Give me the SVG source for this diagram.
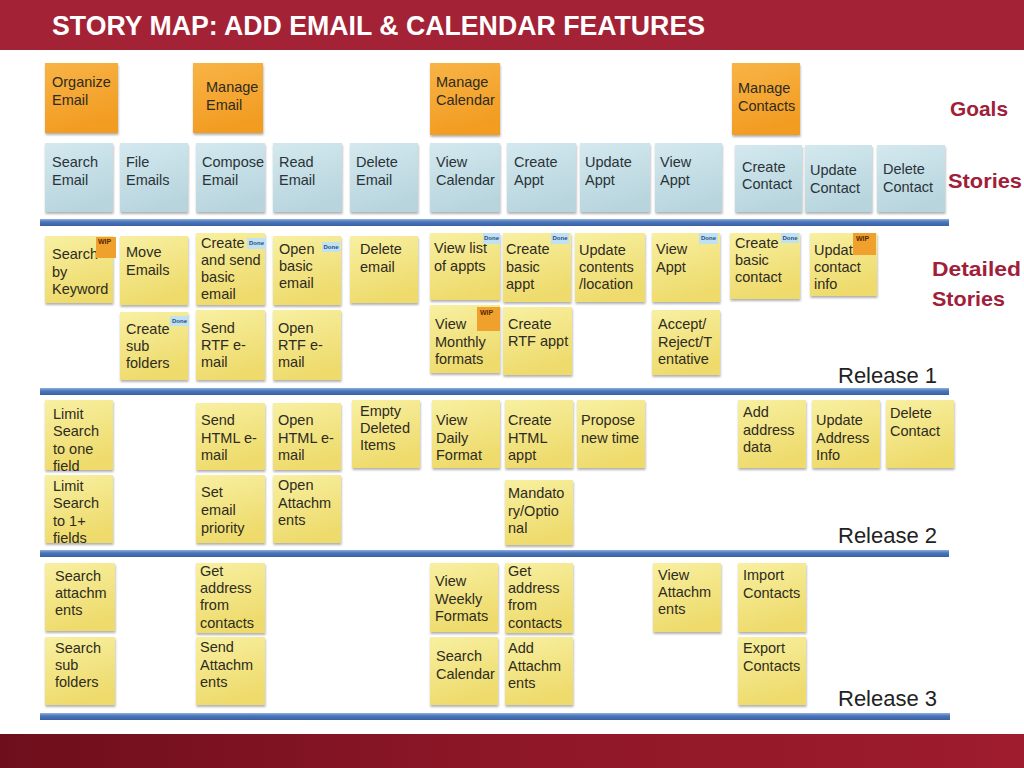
<svg xmlns="http://www.w3.org/2000/svg" width="1024" height="768" viewBox="0 0 1024 768">
<defs>
<linearGradient id="gOrange" x1="0" y1="0" x2="0.3" y2="1"><stop offset="0" stop-color="#F8B446"/><stop offset="1" stop-color="#F29C22"/></linearGradient>
<linearGradient id="gBlue" x1="0" y1="0" x2="0.3" y2="1"><stop offset="0" stop-color="#D4E9EF"/><stop offset="1" stop-color="#B8D5DE"/></linearGradient>
<linearGradient id="gYellow" x1="0" y1="0" x2="0.3" y2="1"><stop offset="0" stop-color="#F8F0A2"/><stop offset="1" stop-color="#EEDB6C"/></linearGradient>
<linearGradient id="gBar" x1="0" y1="0" x2="0" y2="1"><stop offset="0" stop-color="#8EB0DD"/><stop offset="0.4" stop-color="#4C77BC"/><stop offset="1" stop-color="#3A60A2"/></linearGradient>
<linearGradient id="gFoot" x1="0" y1="0" x2="1" y2="0"><stop offset="0" stop-color="#6E0E1C"/><stop offset="0.5" stop-color="#8E1727"/><stop offset="1" stop-color="#9E1C2D"/></linearGradient>
<filter id="sh" x="-10%" y="-10%" width="130%" height="130%"><feDropShadow dx="0.5" dy="2" stdDeviation="1.3" flood-color="#000" flood-opacity="0.3"/></filter>
<style>
.note rect.bg{filter:url(#sh)}
.goal rect.bg{fill:url(#gOrange)}
.story rect.bg{fill:url(#gBlue)}
.detail rect.bg{fill:url(#gYellow)}
.note text{font-family:"Liberation Sans",Arial,sans-serif;font-size:14.5px;fill:#2E2B20}
.story text{fill:#2A3338}
.note .done rect{fill:#BFE1F2}
.note .done text{font-size:6px;fill:#2A4C80;font-weight:bold}
.note .wip rect{fill:#F0A02C}
.note .wip text{font-size:7px;fill:#5A2600;font-weight:bold}
.side{font-family:"Liberation Sans",Arial,sans-serif;font-weight:bold;font-size:21px;fill:#A0203A}
.rel{font-family:"Liberation Sans",Arial,sans-serif;font-size:22px;fill:#222}
</style>
</defs>

<rect x="0" y="0" width="1024" height="768" fill="#FFFFFF"/>
<g id="header">
<rect x="0" y="0" width="1024" height="50" fill="#A32236"/>
<text x="52" y="35" font-family="'Liberation Sans',Arial,sans-serif" font-weight="bold" font-size="27" fill="#FFFFFF" textLength="653" lengthAdjust="spacingAndGlyphs">STORY MAP: ADD EMAIL &amp; CALENDAR FEATURES</text>
</g>
<rect id="footer" x="0" y="734" width="1024" height="34" fill="url(#gFoot)"/>

<g id="labels">
<text class="side" x="950" y="116" textLength="58" lengthAdjust="spacingAndGlyphs">Goals</text>
<text class="side" x="948" y="188" textLength="74" lengthAdjust="spacingAndGlyphs">Stories</text>
<text class="side" x="932" y="276" textLength="89" lengthAdjust="spacingAndGlyphs">Detailed</text>
<text class="side" x="932" y="306" textLength="73" lengthAdjust="spacingAndGlyphs">Stories</text>
<text class="rel" x="838" y="383">Release 1</text>
<text class="rel" x="838" y="543">Release 2</text>
<text class="rel" x="838" y="706">Release 3</text>
</g>

<g id="connectors">
<rect x="40" y="219" width="909" height="7" fill="url(#gBar)"/>
<rect x="40" y="388" width="909" height="7" fill="url(#gBar)"/>
<rect x="40" y="550" width="909" height="7" fill="url(#gBar)"/>
<rect x="40" y="713" width="910" height="7" fill="url(#gBar)"/>
</g>

<!-- Goals -->
<g id="goal-organize-email" class="note goal"><rect class="bg" x="45" y="63" width="73" height="70"/><text x="52" y="87"><tspan>Organize</tspan><tspan x="52" dy="17.5">Email</tspan></text></g>
<g id="goal-manage-email" class="note goal"><rect class="bg" x="193" y="63" width="70" height="70"/><text x="206" y="92"><tspan>Manage</tspan><tspan x="206" dy="17.5">Email</tspan></text></g>
<g id="goal-manage-calendar" class="note goal"><rect class="bg" x="430" y="63" width="70" height="72"/><text x="436" y="87"><tspan>Manage</tspan><tspan x="436" dy="17.5">Calendar</tspan></text></g>
<g id="goal-manage-contacts" class="note goal"><rect class="bg" x="732" y="63" width="68" height="72"/><text x="738" y="93"><tspan>Manage</tspan><tspan x="738" dy="17.5">Contacts</tspan></text></g>

<!-- Stories -->
<g id="story-search-email" class="note story"><rect class="bg" x="45" y="143" width="68" height="69"/><text x="52" y="167"><tspan>Search</tspan><tspan x="52" dy="18">Email</tspan></text></g>
<g id="story-file-emails" class="note story"><rect class="bg" x="120" y="143" width="68" height="69"/><text x="126" y="167"><tspan>File</tspan><tspan x="126" dy="18">Emails</tspan></text></g>
<g id="story-compose-email" class="note story"><rect class="bg" x="196" y="143" width="69" height="69"/><text x="202" y="167"><tspan>Compose</tspan><tspan x="202" dy="18">Email</tspan></text></g>
<g id="story-read-email" class="note story"><rect class="bg" x="273" y="143" width="69" height="69"/><text x="279" y="167"><tspan>Read</tspan><tspan x="279" dy="18">Email</tspan></text></g>
<g id="story-delete-email" class="note story"><rect class="bg" x="350" y="143" width="68" height="69"/><text x="356" y="167"><tspan>Delete</tspan><tspan x="356" dy="18">Email</tspan></text></g>
<g id="story-view-calendar" class="note story"><rect class="bg" x="430" y="143" width="70" height="69"/><text x="436" y="167"><tspan>View</tspan><tspan x="436" dy="18">Calendar</tspan></text></g>
<g id="story-create-appt" class="note story"><rect class="bg" x="507" y="143" width="69" height="69"/><text x="514" y="167"><tspan>Create</tspan><tspan x="514" dy="18">Appt</tspan></text></g>
<g id="story-update-appt" class="note story"><rect class="bg" x="580" y="143" width="70" height="69"/><text x="585" y="167"><tspan>Update</tspan><tspan x="585" dy="18">Appt</tspan></text></g>
<g id="story-view-appt" class="note story"><rect class="bg" x="655" y="143" width="67" height="69"/><text x="660" y="167"><tspan>View</tspan><tspan x="660" dy="18">Appt</tspan></text></g>
<g id="story-create-contact" class="note story"><rect class="bg" x="735" y="145" width="67" height="67"/><text x="742" y="172"><tspan>Create</tspan><tspan x="742" dy="17">Contact</tspan></text></g>
<g id="story-update-contact" class="note story"><rect class="bg" x="805" y="145" width="67" height="67"/><text x="810" y="175"><tspan>Update</tspan><tspan x="810" dy="18">Contact</tspan></text></g>
<g id="story-delete-contact" class="note story"><rect class="bg" x="877" y="145" width="68" height="67"/><text x="883" y="174"><tspan>Delete</tspan><tspan x="883" dy="18">Contact</tspan></text></g>

<!-- Release 1 detailed stories -->
<g id="d-search-keyword" class="note detail"><rect class="bg" x="45" y="236" width="68" height="67"/><text x="52" y="259"><tspan>Search</tspan><tspan x="52" dy="17.5">by</tspan><tspan x="52" dy="17.5">Keyword</tspan></text><g class="wip"><rect x="96" y="237" width="20" height="21"/><text x="98" y="244">WIP</text></g></g>
<g id="d-move-emails" class="note detail"><rect class="bg" x="120" y="236" width="68" height="69"/><text x="126" y="257"><tspan>Move</tspan><tspan x="126" dy="17.5">Emails</tspan></text></g>
<g id="d-create-send-basic" class="note detail"><rect class="bg" x="196" y="233" width="69" height="72"/><text x="201" y="248"><tspan>Create</tspan><tspan x="201" dy="17">and send</tspan><tspan x="201" dy="17">basic</tspan><tspan x="201" dy="17">email</tspan></text><g class="done"><rect x="247" y="238" width="19" height="11"/><text x="249" y="245">Done</text></g></g>
<g id="d-open-basic" class="note detail"><rect class="bg" x="273" y="236" width="68" height="69"/><text x="279" y="254"><tspan>Open</tspan><tspan x="279" dy="17">basic</tspan><tspan x="279" dy="17">email</tspan></text><g class="done"><rect x="322" y="242" width="18" height="10"/><text x="323.5" y="249">Done</text></g></g>
<g id="d-delete-email" class="note detail"><rect class="bg" x="350" y="236" width="68" height="67"/><text x="360" y="254"><tspan>Delete</tspan><tspan x="360" dy="17.5">email</tspan></text></g>
<g id="d-view-list-appts" class="note detail"><rect class="bg" x="430" y="233" width="70" height="67"/><text x="434" y="253"><tspan>View list</tspan><tspan x="434" dy="18">of appts</tspan></text><g class="done"><rect x="483" y="233" width="17" height="11"/><text x="484" y="240">Done</text></g></g>
<g id="d-create-basic-appt" class="note detail"><rect class="bg" x="503" y="233" width="68" height="69"/><text x="506" y="254"><tspan>Create</tspan><tspan x="506" dy="17.5">basic</tspan><tspan x="506" dy="17.5">appt</tspan></text><g class="done"><rect x="551" y="233" width="18" height="11"/><text x="552.5" y="240">Done</text></g></g>
<g id="d-update-contents" class="note detail"><rect class="bg" x="575" y="233" width="70" height="69"/><text x="579" y="255"><tspan>Update</tspan><tspan x="579" dy="17">contents</tspan><tspan x="579" dy="17">/location</tspan></text></g>
<g id="d-view-appt" class="note detail"><rect class="bg" x="652" y="233" width="68" height="69"/><text x="656" y="254"><tspan>View</tspan><tspan x="656" dy="17.5">Appt</tspan></text><g class="done"><rect x="699" y="233" width="19" height="11"/><text x="701" y="240">Done</text></g></g>
<g id="d-create-basic-contact" class="note detail"><rect class="bg" x="730" y="233" width="70" height="66"/><text x="735" y="248"><tspan>Create</tspan><tspan x="735" dy="17">basic</tspan><tspan x="735" dy="17">contact</tspan></text><g class="done"><rect x="781" y="233" width="18" height="10"/><text x="782.5" y="240">Done</text></g></g>
<g id="d-update-contact-info" class="note detail"><rect class="bg" x="810" y="233" width="67" height="63"/><text x="814" y="255"><tspan>Update</tspan><tspan x="814" dy="17">contact</tspan><tspan x="814" dy="17">info</tspan></text><g class="wip"><rect x="853" y="233" width="23" height="22"/><text x="856" y="241">WIP</text></g></g>

<g id="d-create-subfolders" class="note detail"><rect class="bg" x="120" y="312" width="68" height="68"/><text x="126" y="334"><tspan>Create</tspan><tspan x="126" dy="17">sub</tspan><tspan x="126" dy="17">folders</tspan></text><g class="done"><rect x="170" y="316" width="19" height="10"/><text x="172" y="323">Done</text></g></g>
<g id="d-send-rtf" class="note detail"><rect class="bg" x="196" y="310" width="69" height="70"/><text x="201" y="333"><tspan>Send</tspan><tspan x="201" dy="17">RTF e-</tspan><tspan x="201" dy="17">mail</tspan></text></g>
<g id="d-open-rtf" class="note detail"><rect class="bg" x="273" y="310" width="68" height="70"/><text x="278" y="333"><tspan>Open</tspan><tspan x="278" dy="17">RTF e-</tspan><tspan x="278" dy="17">mail</tspan></text></g>
<g id="d-view-monthly" class="note detail"><rect class="bg" x="430" y="305" width="70" height="68"/><text x="435" y="329"><tspan>View</tspan><tspan x="435" dy="17.5">Monthly</tspan><tspan x="435" dy="17.5">formats</tspan></text><g class="wip"><rect x="477" y="307" width="23" height="24"/><text x="480" y="315">WIP</text></g></g>
<g id="d-create-rtf-appt" class="note detail"><rect class="bg" x="503" y="307" width="69" height="68"/><text x="508" y="329"><tspan>Create</tspan><tspan x="508" dy="17">RTF appt</tspan></text></g>
<g id="d-accept-reject" class="note detail"><rect class="bg" x="652" y="310" width="68" height="65"/><text x="658" y="329"><tspan>Accept/</tspan><tspan x="658" dy="17.5">Reject/T</tspan><tspan x="658" dy="17.5">entative</tspan></text></g>

<!-- Release 2 -->
<g id="e-limit-one" class="note detail"><rect class="bg" x="45" y="400" width="68" height="70"/><text x="53" y="419"><tspan>Limit</tspan><tspan x="53" dy="17.3">Search</tspan><tspan x="53" dy="17.3">to one</tspan><tspan x="53" dy="17.3">field</tspan></text></g>
<g id="e-send-html" class="note detail"><rect class="bg" x="196" y="403" width="69" height="67"/><text x="201" y="425"><tspan>Send</tspan><tspan x="201" dy="17.5">HTML e-</tspan><tspan x="201" dy="17.5">mail</tspan></text></g>
<g id="e-open-html" class="note detail"><rect class="bg" x="273" y="403" width="68" height="67"/><text x="278" y="425"><tspan>Open</tspan><tspan x="278" dy="17.5">HTML e-</tspan><tspan x="278" dy="17.5">mail</tspan></text></g>
<g id="e-empty-deleted" class="note detail"><rect class="bg" x="352" y="400" width="68" height="68"/><text x="360" y="416"><tspan>Empty</tspan><tspan x="360" dy="17">Deleted</tspan><tspan x="360" dy="17">Items</tspan></text></g>
<g id="e-view-daily" class="note detail"><rect class="bg" x="432" y="400" width="68" height="68"/><text x="436" y="425"><tspan>View</tspan><tspan x="436" dy="17.5">Daily</tspan><tspan x="436" dy="17.5">Format</tspan></text></g>
<g id="e-create-html-appt" class="note detail"><rect class="bg" x="505" y="400" width="68" height="68"/><text x="508" y="425"><tspan>Create</tspan><tspan x="508" dy="17.5">HTML</tspan><tspan x="508" dy="17.5">appt</tspan></text></g>
<g id="e-propose-time" class="note detail"><rect class="bg" x="577" y="400" width="68" height="68"/><text x="581" y="425"><tspan>Propose</tspan><tspan x="581" dy="17.5">new time</tspan></text></g>
<g id="e-add-address" class="note detail"><rect class="bg" x="738" y="400" width="68" height="68"/><text x="743" y="417"><tspan>Add</tspan><tspan x="743" dy="17.5">address</tspan><tspan x="743" dy="17.5">data</tspan></text></g>
<g id="e-update-address" class="note detail"><rect class="bg" x="812" y="400" width="68" height="68"/><text x="816" y="425"><tspan>Update</tspan><tspan x="816" dy="17.5">Address</tspan><tspan x="816" dy="17.5">Info</tspan></text></g>
<g id="e-delete-contact" class="note detail"><rect class="bg" x="886" y="400" width="68" height="68"/><text x="890" y="418"><tspan>Delete</tspan><tspan x="890" dy="17.5">Contact</tspan></text></g>

<g id="e-limit-many" class="note detail"><rect class="bg" x="45" y="475" width="68" height="68"/><text x="53" y="491"><tspan>Limit</tspan><tspan x="53" dy="17.3">Search</tspan><tspan x="53" dy="17.3">to 1+</tspan><tspan x="53" dy="17.3">fields</tspan></text></g>
<g id="e-set-priority" class="note detail"><rect class="bg" x="196" y="475" width="69" height="68"/><text x="201" y="497"><tspan>Set</tspan><tspan x="201" dy="18">email</tspan><tspan x="201" dy="18">priority</tspan></text></g>
<g id="e-open-attachments" class="note detail"><rect class="bg" x="273" y="475" width="68" height="68"/><text x="278" y="490"><tspan>Open</tspan><tspan x="278" dy="17.5">Attachm</tspan><tspan x="278" dy="17.5">ents</tspan></text></g>
<g id="e-mandatory-optional" class="note detail"><rect class="bg" x="505" y="480" width="68" height="65"/><text x="508" y="498"><tspan>Mandato</tspan><tspan x="508" dy="17.5">ry/Optio</tspan><tspan x="508" dy="17.5">nal</tspan></text></g>

<!-- Release 3 -->
<g id="f-search-attachments" class="note detail"><rect class="bg" x="45" y="563" width="70" height="68"/><text x="55" y="581"><tspan>Search</tspan><tspan x="55" dy="17">attachm</tspan><tspan x="55" dy="17">ents</tspan></text></g>
<g id="f-get-address-email" class="note detail"><rect class="bg" x="196" y="563" width="69" height="70"/><text x="200" y="576"><tspan>Get</tspan><tspan x="200" dy="17.2">address</tspan><tspan x="200" dy="17.2">from</tspan><tspan x="200" dy="17.2">contacts</tspan></text></g>
<g id="f-view-weekly" class="note detail"><rect class="bg" x="430" y="563" width="68" height="69"/><text x="435" y="586"><tspan>View</tspan><tspan x="435" dy="17.5">Weekly</tspan><tspan x="435" dy="17.5">Formats</tspan></text></g>
<g id="f-get-address-cal" class="note detail"><rect class="bg" x="505" y="563" width="68" height="70"/><text x="508" y="576"><tspan>Get</tspan><tspan x="508" dy="17.2">address</tspan><tspan x="508" dy="17.2">from</tspan><tspan x="508" dy="17.2">contacts</tspan></text></g>
<g id="f-view-attachments" class="note detail"><rect class="bg" x="653" y="563" width="68" height="69"/><text x="658" y="580"><tspan>View</tspan><tspan x="658" dy="17">Attachm</tspan><tspan x="658" dy="17">ents</tspan></text></g>
<g id="f-import-contacts" class="note detail"><rect class="bg" x="738" y="563" width="68" height="69"/><text x="743" y="580"><tspan>Import</tspan><tspan x="743" dy="17.5">Contacts</tspan></text></g>

<g id="f-search-subfolders" class="note detail"><rect class="bg" x="45" y="637" width="70" height="68"/><text x="55" y="653"><tspan>Search</tspan><tspan x="55" dy="17">sub</tspan><tspan x="55" dy="17">folders</tspan></text></g>
<g id="f-send-attachments" class="note detail"><rect class="bg" x="196" y="637" width="69" height="68"/><text x="200" y="652"><tspan>Send</tspan><tspan x="200" dy="17.5">Attachm</tspan><tspan x="200" dy="17.5">ents</tspan></text></g>
<g id="f-search-calendar" class="note detail"><rect class="bg" x="430" y="637" width="68" height="68"/><text x="436" y="661"><tspan>Search</tspan><tspan x="436" dy="17.5">Calendar</tspan></text></g>
<g id="f-add-attachments" class="note detail"><rect class="bg" x="505" y="637" width="68" height="68"/><text x="508" y="653"><tspan>Add</tspan><tspan x="508" dy="17.5">Attachm</tspan><tspan x="508" dy="17.5">ents</tspan></text></g>
<g id="f-export-contacts" class="note detail"><rect class="bg" x="738" y="637" width="68" height="68"/><text x="743" y="653"><tspan>Export</tspan><tspan x="743" dy="17.5">Contacts</tspan></text></g>
</svg>
